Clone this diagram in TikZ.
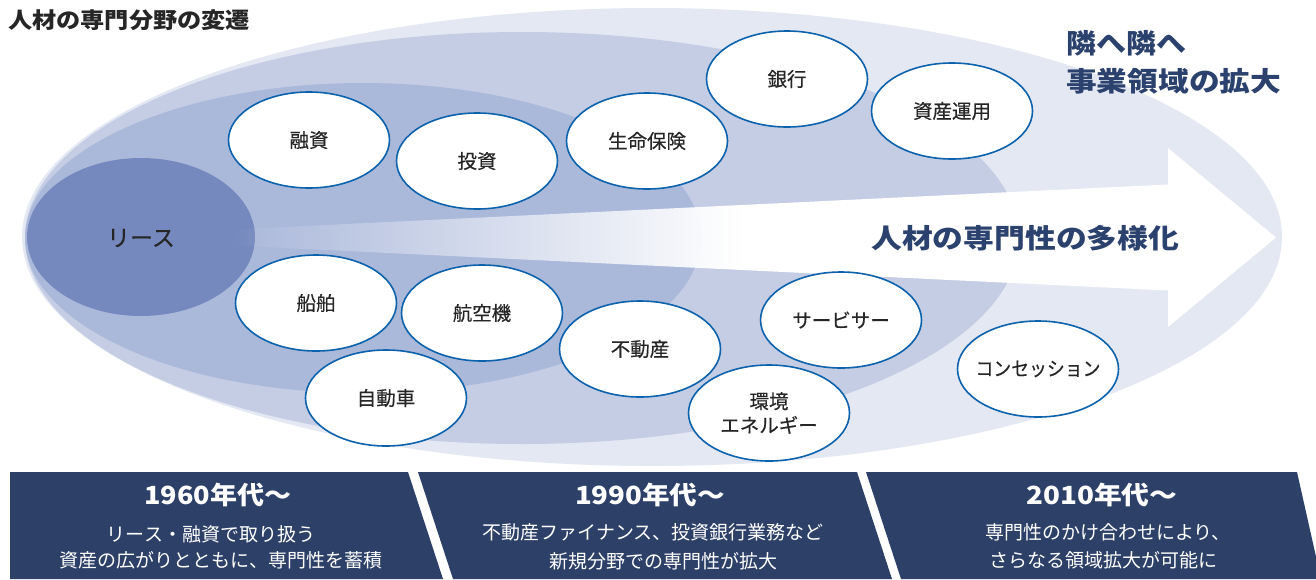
\documentclass[tikz,border=0pt]{standalone}
\usepackage{fontspec}
\usepackage{graphicx}
\setmainfont{Noto Sans CJK JP}
\newfontfamily\medfont[FakeBold=0.35]{Noto Sans CJK JP}
\usetikzlibrary{shapes.geometric,fadings}
\definecolor{bgA}{RGB}{228,232,243}
\definecolor{bgB}{RGB}{197,205,229}
\definecolor{bgC}{RGB}{170,184,218}
\definecolor{bgD}{RGB}{117,137,190}
\definecolor{navy}{RGB}{45,64,104}
\definecolor{labnavy}{RGB}{43,65,110}
\definecolor{nodeblue}{RGB}{12,98,172}
\definecolor{txt}{RGB}{38,38,38}
\tikzfading[name=arrowfade, left color=transparent!100, right color=transparent!0]
\tikzset{
  bub/.style={ellipse, draw=nodeblue, line width=1.6pt, fill=white,
    minimum width=161pt, minimum height=96pt, inner xsep=-30pt, inner ysep=0pt, text=txt,
    font=\medfont\fontsize{19.5}{24}\selectfont, align=center},
  head/.style={text=white, font=\bfseries\fontsize{25}{29}\selectfont, inner sep=0pt},
  subtxt/.style={text=white, font=\fontsize{19}{23}\selectfont, inner sep=0pt},
  biglab/.style={text=labnavy, font=\bfseries\fontsize{27}{31}\selectfont, inner sep=0pt, anchor=west},
}
\begin{document}
\begin{tikzpicture}[x=1pt,y=-1pt]
\useasboundingbox (0,0) rectangle (1316,579);
\fill[white] (0,0) rectangle (1316,579);
% nested background ellipses
\fill[bgA] (652,237) ellipse [x radius=630pt, y radius=229pt];
\fill[bgB] (522,238) ellipse [x radius=497pt, y radius=206pt];
\fill[bgC] (363,238) ellipse [x radius=338pt, y radius=155pt];
\fill[bgD] (141,237) ellipse [x radius=114pt, y radius=79pt];
% arrow
\fill[white, path fading=arrowfade] (232,229.5) -- (742,205) -- (742,270) -- (232,245.5) -- cycle;
\fill[white] (741,205.05) -- (1168,184.5) -- (1168,148) -- (1276,237.5) -- (1168,327) -- (1168,290.5) -- (741,269.95) -- cycle;
% centre label
\node[text=txt, font=\medfont\fontsize{23}{27}\selectfont, inner sep=0pt] (lease) at (141,238) {リース};
% bubbles
\node[bub] (yushi) at (309,140) {融資};
\node[bub] (toshi) at (477,161) {投資};
\node[bub] (seimei) at (647,141) {生命保険};
\node[bub] (ginko) at (787,79) {銀行};
\node[bub] (shisan) at (952,111) {資産運用};
\node[bub] (senpaku) at (316,303) {船舶};
\node[bub] (koku) at (482,313) {航空機};
\node[bub] (fudosan) at (640,349) {不動産};
\node[bub] (servicer) at (841,320) {サービサー};
\node[bub] (jidosha) at (386,398) {自動車};
\node[bub] (kankyo) at (769,413) {環境\\エネルギー};
\node[bub] (concession) at (1038,369) {\resizebox{125pt}{\height}{コンセッション}};
% labels
\node[anchor=west, text=txt, font=\bfseries\fontsize{22}{26}\selectfont, inner sep=0pt] (title) at (8,20) {\resizebox{242pt}{\height}{人材の専門分野の変遷}};
\node[biglab] (tonari1) at (1066,43) {\resizebox{120pt}{\height}{隣へ隣へ}};
\node[biglab] (tonari2) at (1066,81) {\resizebox{215pt}{\height}{事業領域の拡大}};
\node[biglab] (tayoka) at (871,238) {\resizebox{308pt}{\height}{人材の専門性の多様化}};
% bottom panels
\fill[navy] (10,472) -- (408,472) -- (443,579) -- (10,579) -- cycle;
\fill[navy] (418,472) -- (857,472) -- (892,579) -- (453,579) -- cycle;
\fill[navy] (866,472) -- (1297,472) -- (1321,579) -- (901,579) -- cycle;
\node[head] (h1) at (218,495) {\resizebox{147pt}{\height}{1960年代〜}};
\node[subtxt] (p1a) at (211,534) {リース・融資で取り扱う};
\node[subtxt] (p1b) at (221,560) {資産の広がりとともに、専門性を蓄積};
\node[head] (h2) at (650,495) {\resizebox{150pt}{\height}{1990年代〜}};
\node[subtxt] (p2a) at (653,532) {不動産ファイナンス、投資銀行業務など};
\node[subtxt] (p2b) at (663,561) {新規分野での専門性が拡大};
\node[head] (h3) at (1102,495) {\resizebox{151pt}{\height}{2010年代〜}};
\node[subtxt] (p3a) at (1108,532) {専門性のかけ合わせにより、};
\node[subtxt] (p3b) at (1103,560) {さらなる領域拡大が可能に};
\end{tikzpicture}
\end{document}
